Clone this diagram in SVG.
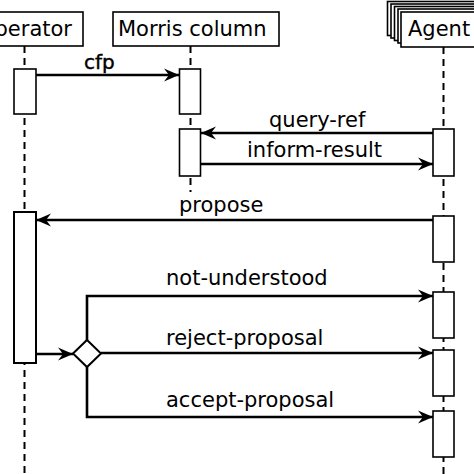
<svg xmlns="http://www.w3.org/2000/svg" width="474" height="474" viewBox="0 0 474 474">
<defs>
<style>
.box{fill:#fff;stroke:#000;stroke-width:1.6}
.act{fill:#fff;stroke:#000;stroke-width:1.6}
.life{fill:none;stroke:#000;stroke-width:2;stroke-dasharray:7,5}
.msg{fill:none;stroke:#000;stroke-width:2.6}
.t{font-family:"DejaVu Sans",sans-serif;font-size:21px;fill:#000}
.lbl{font-family:"DejaVu Sans",sans-serif;font-size:21px;fill:#000}
</style>
<marker id="ah" markerUnits="userSpaceOnUse" markerWidth="16" markerHeight="14" refX="15" refY="7" orient="auto">
<path d="M0,0.5 L15,7 L0,13.5 L5,7 z" fill="#000"/>
</marker>
</defs>
<rect width="474" height="474" fill="#fff"/>
<g id="lifelines">
<line class="life" x1="24.5" y1="46" x2="24.5" y2="474"/>
<line class="life" x1="190.5" y1="46" x2="190.5" y2="192"/>
<line class="life" x1="443.5" y1="47" x2="443.5" y2="474"/>
</g>
<g id="operator">
<rect class="box" x="-28" y="12" width="111" height="34"/>
<text class="t" x="-22" y="36">Operator</text>
</g>
<g id="morris">
<rect class="box" x="113" y="12" width="166" height="34"/>
<text class="t" x="118" y="36">Morris column</text>
</g>
<g id="agent">
<rect class="box" x="387.5" y="1.5" width="100" height="34"/>
<rect class="box" x="391" y="4" width="100" height="34"/>
<rect class="box" x="394.5" y="6.5" width="100" height="34"/>
<rect class="box" x="398" y="9" width="100" height="34"/>
<rect class="box" x="401" y="12" width="100" height="35"/>
<text class="t" x="408" y="36">Agent</text>
</g>
<g id="activations">
<rect class="act" x="14" y="69" width="22" height="45"/>
<rect class="act" x="179.5" y="69" width="21" height="45"/>
<rect class="act" x="179.5" y="129" width="21" height="47"/>
<rect class="act" x="433" y="129" width="21" height="47"/>
<rect class="act" x="14" y="212" width="22" height="151" style="stroke-width:2"/>
<rect class="act" x="433" y="216" width="21" height="46"/>
<rect class="act" x="433" y="292" width="21" height="46"/>
<rect class="act" x="433" y="350" width="21" height="46"/>
<rect class="act" x="433" y="411" width="21" height="46"/>
</g>
<g id="decision">
<polygon class="box" points="87,340 101,353.5 87,367 73,353.5" style="stroke-width:2"/>
</g>
<g id="connectors">
<line class="msg" x1="36" y1="75" x2="179" y2="75" marker-end="url(#ah)"/>
<line class="msg" x1="433" y1="133" x2="201" y2="133" marker-end="url(#ah)"/>
<line class="msg" x1="201" y1="164" x2="433" y2="164" marker-end="url(#ah)"/>
<line class="msg" x1="433" y1="220" x2="36" y2="220" marker-end="url(#ah)"/>
<line class="msg" x1="36" y1="354" x2="73" y2="354" marker-end="url(#ah)"/>
<polyline class="msg" points="87,340 87,296 433,296" marker-end="url(#ah)"/>
<line class="msg" x1="101" y1="353" x2="433" y2="353" marker-end="url(#ah)"/>
<polyline class="msg" points="87,367 87,417 433,417" marker-end="url(#ah)"/>
</g>
<g id="labels">
<text class="lbl" x="84" y="69" style="font-size:20px;stroke:#000;stroke-width:0.4">cfp</text>
<text class="lbl" x="269" y="127">query-ref</text>
<text class="lbl" x="247" y="157">inform-result</text>
<text class="lbl" x="179" y="212">propose</text>
<text class="lbl" x="166" y="285">not-understood</text>
<text class="lbl" x="166" y="345">reject-proposal</text>
<text class="lbl" x="166" y="407">accept-proposal</text>
</g>
</svg>
